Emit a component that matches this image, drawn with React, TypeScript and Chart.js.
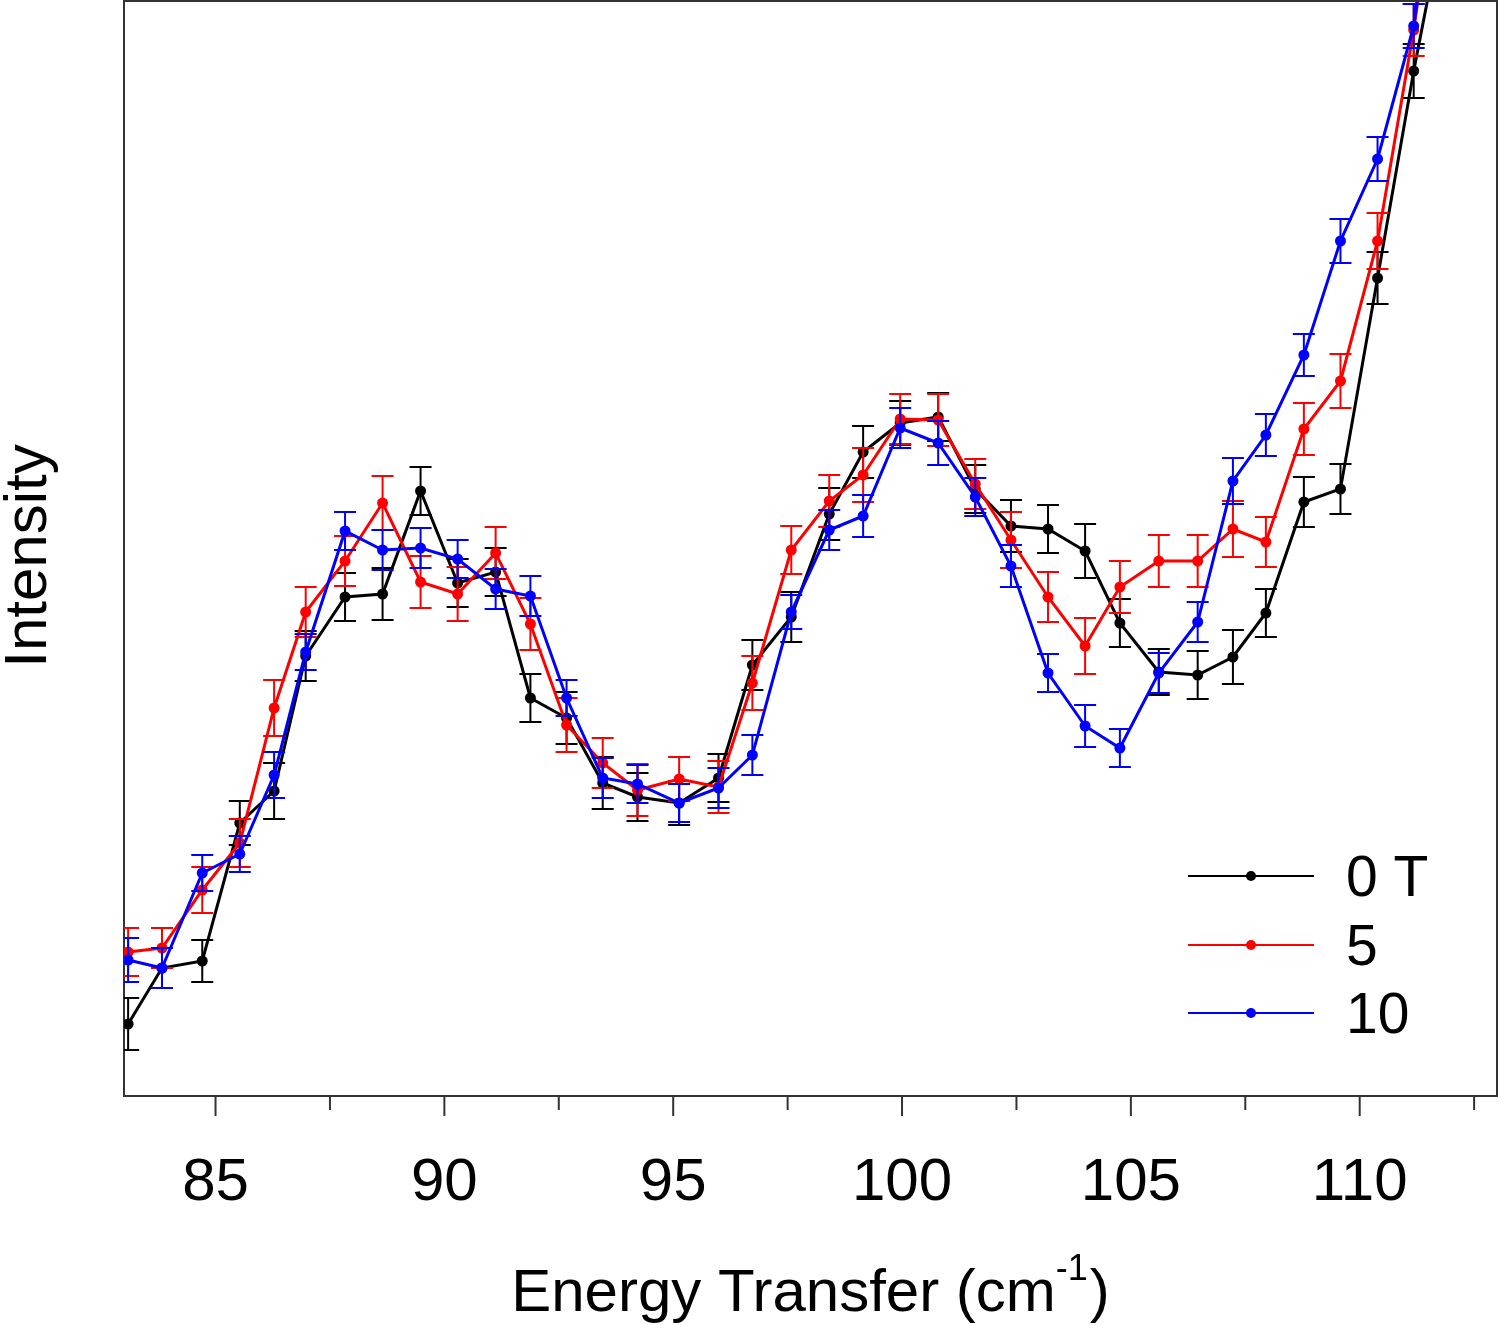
import React, { useEffect, useRef } from 'react';
import { Chart, registerables } from 'chart.js';

Chart.register(...registerables);

// Energy transfer (cm^-1) of each measured point
const ENERGY = [
  83.09, 83.83, 84.71, 85.53, 86.28, 86.97, 87.83, 88.65, 89.48, 90.29,
  91.12, 91.88, 92.67, 93.46, 94.22, 95.13, 95.99, 96.73, 97.58, 98.41,
  99.15, 99.96, 100.79, 101.6, 102.38, 103.19, 104.0, 104.76, 105.61, 106.46,
  107.23, 107.95, 108.78, 109.58, 110.39, 111.18, 111.98,
];

// Intensity (arbitrary units) — 0 T
const INT_0T = [
  7.2, 12.8, 13.5, 27.3, 30.5, 44.0, 49.9, 50.2, 60.5, 51.3,
  52.4, 39.8, 37.8, 31.3, 29.9, 29.3, 31.8, 43.1, 47.9, 58.2,
  64.4, 67.3, 67.9, 60.7, 57.0, 56.7, 54.5, 47.3, 42.4, 42.1,
  43.9, 48.3, 59.4, 60.7, 81.8, 102.5, 121.3,
];
const ERR_0T = [
  2.6, 2.0, 2.1, 2.2, 2.8, 2.5, 2.4, 2.6, 2.4, 2.4,
  2.4, 2.4, 2.6, 2.6, 2.4, 2.2, 2.4, 2.5, 2.5, 2.6,
  2.6, 2.2, 2.4, 2.4, 2.6, 2.4, 2.7, 2.4, 2.3, 2.4,
  2.7, 2.4, 2.5, 2.5, 2.6, 2.7, 2.7,
];

// Intensity — 5 T
const INT_5T = [
  14.4, 14.8, 20.6, 25.3, 38.8, 48.4, 53.5, 59.3, 51.4, 50.2,
  54.3, 47.2, 37.1, 33.3, 30.6, 31.7, 30.9, 41.3, 54.6, 59.5,
  62.1, 67.7, 67.6, 61.2, 55.6, 49.9, 45.0, 50.9, 53.5, 53.5,
  56.7, 55.4, 66.7, 71.5, 85.5, 106.6, 132.0,
];
const ERR_5T = [
  2.4, 2.0, 2.3, 2.4, 2.8, 2.5, 2.5, 2.7, 2.6, 2.7,
  2.6, 2.6, 2.7, 2.5, 2.6, 2.2, 2.6, 2.7, 2.4, 2.6,
  2.7, 2.5, 2.6, 2.5, 2.8, 2.5, 2.8, 2.6, 2.6, 2.6,
  2.8, 2.5, 2.6, 2.7, 2.8, 2.6, 2.6,
];

// Intensity — 10 T
const INT_10T = [
  13.6, 12.8, 22.3, 24.2, 32.1, 44.4, 56.5, 54.6, 54.8, 53.7,
  50.7, 50.0, 39.8, 31.8, 31.2, 29.3, 30.8, 34.1, 48.4, 56.6,
  58.0, 66.8, 65.3, 59.9, 53.0, 42.3, 37.0, 34.8, 42.3, 47.4,
  61.5, 66.1, 74.1, 85.5, 93.7, 107.0, 135.0,
];
const ERR_10T = [
  2.2, 2.0, 1.8, 1.8, 2.3, 1.8, 1.9, 2.0, 2.0, 1.9,
  2.0, 2.0, 1.8, 2.0, 1.9, 1.9, 2.0, 2.0, 1.7, 2.0,
  2.1, 2.0, 2.2, 1.9, 2.1, 1.9, 2.1, 1.9, 2.0, 2.0,
  2.3, 2.1, 2.1, 2.2, 2.2, 2.2, 2.2,
];

// x-axis tick positions (labelled every 5, minor marks in between)
const X_TICKS = [85, 87.5, 90, 92.5, 95, 97.5, 100, 102.5, 105, 107.5, 110, 112.5];

const SERIES_LABELS = ['0 T', '5', '10'];
const SERIES_COLORS = ['#000000', '#ff0000', '#0000ff'];
const SERIES_VALUES = [INT_0T, INT_5T, INT_10T];
const SERIES_ERRORS = [ERR_0T, ERR_5T, ERR_10T];

const X_TITLE_MAIN = 'Energy Transfer (cm';
const X_TITLE_SUP = '-1';
const X_TITLE_END = ')';
const Y_TITLE = 'Intensity';

const FONT = "'Liberation Sans', Arial, Helvetica, sans-serif";
const AXIS_COLOR = '#333333';

const isMajor = (v: number) => Math.abs(v % 5) < 1e-6;

const errorBarPlugin = {
  id: 'errorBars',
  beforeDatasetDraw(chart: any, args: any) {
    const idx = args.index;
    const errs = SERIES_ERRORS[idx];
    const vals = SERIES_VALUES[idx];
    const { ctx, chartArea, scales } = chart;
    const xs = scales.x;
    const ys = scales.y;
    ctx.save();
    ctx.beginPath();
    ctx.rect(chartArea.left, chartArea.top, chartArea.right - chartArea.left, chartArea.bottom - chartArea.top);
    ctx.clip();
    ctx.strokeStyle = SERIES_COLORS[idx];
    ctx.lineWidth = 2;
    const cap = 11;
    for (let i = 0; i < vals.length; i++) {
      const x = xs.getPixelForValue(ENERGY[i]);
      const yTop = ys.getPixelForValue(vals[i] + errs[i]);
      const yBot = ys.getPixelForValue(vals[i] - errs[i]);
      ctx.beginPath();
      ctx.moveTo(x, yTop);
      ctx.lineTo(x, yBot);
      ctx.moveTo(x - cap, yTop);
      ctx.lineTo(x + cap, yTop);
      ctx.moveTo(x - cap, yBot);
      ctx.lineTo(x + cap, yBot);
      ctx.stroke();
    }
    ctx.restore();
  },
};

const framePlugin = {
  id: 'frameAndText',
  afterDraw(chart: any) {
    const { ctx, chartArea, scales } = chart;
    const xs = scales.x;
    ctx.save();
    // top and right frame lines
    ctx.strokeStyle = AXIS_COLOR;
    ctx.lineWidth = 2;
    ctx.beginPath();
    ctx.moveTo(chartArea.left, chartArea.top);
    ctx.lineTo(chartArea.right, chartArea.top);
    ctx.lineTo(chartArea.right, chartArea.bottom);
    ctx.stroke();

    // x tick marks (major every 5, minor every 2.5)
    for (const t of xs.ticks) {
      const v = t.value;
      const x = xs.getPixelForValue(v);
      ctx.beginPath();
      ctx.moveTo(x, chartArea.bottom);
      ctx.lineTo(x, chartArea.bottom + (isMajor(v) ? 20 : 14));
      ctx.stroke();
    }

    // x title with superscript
    ctx.fillStyle = '#000';
    ctx.textBaseline = 'alphabetic';
    ctx.textAlign = 'left';
    const mainFont = `60px ${FONT}`;
    const supFont = `36px ${FONT}`;
    ctx.font = mainFont;
    const wMain = ctx.measureText(X_TITLE_MAIN).width;
    const wEnd = ctx.measureText(X_TITLE_END).width;
    ctx.font = supFont;
    const wSup = ctx.measureText(X_TITLE_SUP).width;
    const total = wMain + wSup + 2 + wEnd;
    const cx = (chartArea.left + chartArea.right) / 2;
    let x0 = cx - total / 2;
    const baseY = 1311;
    ctx.font = mainFont;
    ctx.fillText(X_TITLE_MAIN, x0, baseY);
    x0 += wMain;
    ctx.font = supFont;
    ctx.fillText(X_TITLE_SUP, x0, baseY - 31);
    x0 += wSup + 2;
    ctx.font = mainFont;
    ctx.fillText(X_TITLE_END, x0, baseY);

    // y title
    ctx.save();
    ctx.translate(46, 556);
    ctx.rotate(-Math.PI / 2);
    ctx.textAlign = 'center';
    ctx.font = mainFont;
    ctx.fillText(Y_TITLE, 0, 0);
    ctx.restore();

    // legend
    const legendYs = [876, 945, 1013];
    const lx0 = 1188;
    const lx1 = 1314;
    const tx = 1346;
    chart.data.datasets.forEach((ds: any, i: number) => {
      const y = legendYs[i];
      ctx.strokeStyle = ds.borderColor;
      ctx.lineWidth = 2;
      ctx.beginPath();
      ctx.moveTo(lx0, y);
      ctx.lineTo(lx1, y);
      ctx.stroke();
      ctx.fillStyle = ds.borderColor;
      ctx.beginPath();
      ctx.arc((lx0 + lx1) / 2, y, 5, 0, Math.PI * 2);
      ctx.fill();
      ctx.fillStyle = '#000';
      ctx.font = `57px ${FONT}`;
      ctx.textAlign = 'left';
      ctx.textBaseline = 'alphabetic';
      ctx.fillText(ds.label, tx, y + 20);
    });
    ctx.restore();
  },
};

export default function App() {
  const canvasRef = useRef<HTMLCanvasElement | null>(null);

  useEffect(() => {
    document.body.style.margin = '0';
    const canvas = canvasRef.current;
    if (!canvas) return;
    const datasets = SERIES_LABELS.map((label, i) => ({
      label,
      data: ENERGY.map((x, j) => ({ x, y: SERIES_VALUES[i][j] })),
      borderColor: SERIES_COLORS[i],
      backgroundColor: SERIES_COLORS[i],
      pointBackgroundColor: SERIES_COLORS[i],
      pointBorderColor: SERIES_COLORS[i],
      pointBorderWidth: 0,
      pointRadius: 5.5,
      borderWidth: 3,
      tension: 0,
      clip: 0,
      order: 2 - i,
    }));
    const chart = new Chart(canvas, {
      type: 'line',
      data: { datasets },
      options: {
        animation: false,
        responsive: false,
        devicePixelRatio: 1,
        layout: { autoPadding: false, padding: { top: 1, right: 3, left: 0, bottom: 0 } },
        plugins: {
          legend: { display: false },
          tooltip: { enabled: false },
        },
        scales: {
          x: {
            type: 'linear',
            min: 83,
            max: 113,
            afterBuildTicks: (s: any) => {
              s.ticks = X_TICKS.map((v) => ({ value: v }));
            },
            ticks: {
              autoSkip: false,
              maxRotation: 0,
              minRotation: 0,
              padding: 51,
              color: '#000',
              font: { size: 60, family: FONT },
              callback: (v: any) => (isMajor(Number(v)) ? String(v) : ''),
            },
            grid: { display: false, drawTicks: false },
            border: { display: true, color: AXIS_COLOR, width: 2 },
            afterFit: (s: any) => {
              s.height = 229;
              s.paddingLeft = 0;
              s.paddingRight = 0;
            },
          },
          y: {
            type: 'linear',
            min: 0,
            max: 109.5,
            ticks: { display: false },
            grid: { display: false, drawTicks: false },
            border: { display: true, color: AXIS_COLOR, width: 2 },
            afterFit: (s: any) => {
              s.width = 124;
              s.paddingTop = 0;
              s.paddingBottom = 0;
            },
          },
        },
      },
      plugins: [errorBarPlugin, framePlugin],
    } as any);
    return () => chart.destroy();
  }, []);

  return (
    <div style={{ width: 1500, height: 1325 }}>
      <canvas ref={canvasRef} width={1500} height={1325} style={{ display: 'block' }} />
    </div>
  );
}
